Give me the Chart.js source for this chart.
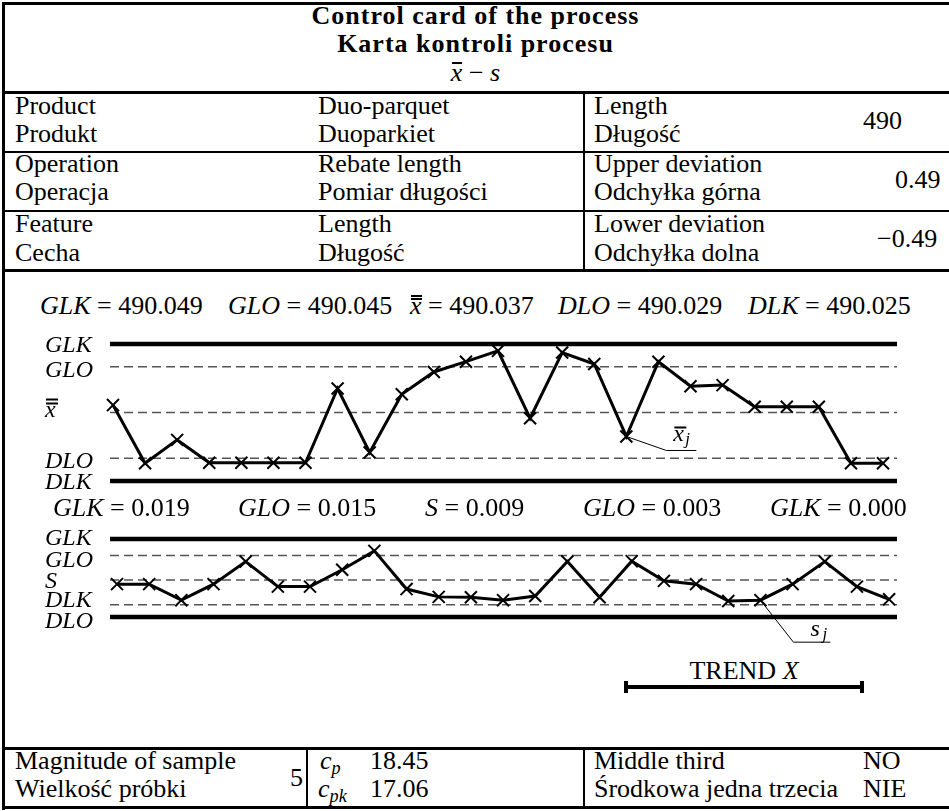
<!DOCTYPE html>
<html>
<head>
<meta charset="utf-8">
<script src="https://cdn.jsdelivr.net/npm/chart.js@4.4.1/dist/chart.umd.min.js"></script>
<style>
body { margin: 0; background: #fff; }
#card { position: relative; width: 949px; height: 811px; overflow: hidden; font-family: "Liberation Serif", "DejaVu Serif", serif; color: #000; }
.t { position: absolute; font-size: 26px; line-height: 26px; white-space: nowrap; }
.b { font-weight: bold; letter-spacing: 1px; }
.h { position: absolute; background: #000; }
i { font-style: italic; }
.ov { position: relative; }
.ov::before { content: ""; position: absolute; left: 1px; right: 0; top: 0.14em; border-top: 2px solid #000; }
.ov2::before { border-top: 5px double #000; }
sub { font-size: 70%; vertical-align: -0.3em; line-height: 0; }
canvas { position: absolute; }
</style>
</head>
<body>
<div id="card">
  <!-- frame -->
  <div class="h" style="left:2px;top:2px;width:3px;height:808px"></div>
  <div class="h" style="left:2px;top:2px;width:947px;height:3px"></div>
  <div class="h" style="left:2px;top:91px;width:947px;height:3px"></div>
  <div class="h" style="left:2px;top:151px;width:947px;height:2px"></div>
  <div class="h" style="left:2px;top:210px;width:947px;height:2px"></div>
  <div class="h" style="left:2px;top:269px;width:947px;height:3px"></div>
  <div class="h" style="left:583px;top:92px;width:2px;height:179px"></div>
  <div class="h" style="left:2px;top:747px;width:947px;height:3px"></div>
  <div class="h" style="left:2px;top:806px;width:947px;height:3px"></div>
  <div class="h" style="left:306px;top:748px;width:2px;height:60px"></div>
  <div class="h" style="left:583px;top:748px;width:2px;height:60px"></div>

  <!-- title -->
  <div class="t b" style="left:2px;width:947px;text-align:center;top:3px">Control card of the process</div>
  <div class="t b" style="left:2px;width:947px;text-align:center;top:31px">Karta kontroli procesu</div>
  <div class="t" style="left:2px;width:947px;text-align:center;top:60px"><i class="ov">x</i> &minus; <i>s</i></div>

  <!-- rows -->
  <div class="t" style="left:15px;top:93px">Product</div>
  <div class="t" style="left:15px;top:121px">Produkt</div>
  <div class="t" style="left:318px;top:93px">Duo-parquet</div>
  <div class="t" style="left:318px;top:121px">Duoparkiet</div>
  <div class="t" style="left:594px;top:93px">Length</div>
  <div class="t" style="left:594px;top:121px">Długość</div>
  <div class="t" style="left:863px;top:108px">490</div>

  <div class="t" style="left:15px;top:151px">Operation</div>
  <div class="t" style="left:15px;top:179px">Operacja</div>
  <div class="t" style="left:318px;top:151px">Rebate length</div>
  <div class="t" style="left:318px;top:179px">Pomiar długości</div>
  <div class="t" style="left:594px;top:151px">Upper deviation</div>
  <div class="t" style="left:594px;top:179px">Odchyłka górna</div>
  <div class="t" style="left:895px;top:167px">0.49</div>

  <div class="t" style="left:15px;top:211px">Feature</div>
  <div class="t" style="left:15px;top:240px">Cecha</div>
  <div class="t" style="left:318px;top:211px">Length</div>
  <div class="t" style="left:318px;top:240px">Długość</div>
  <div class="t" style="left:594px;top:211px">Lower deviation</div>
  <div class="t" style="left:594px;top:240px">Odchyłka dolna</div>
  <div class="t" style="left:877px;top:226px">&minus;0.49</div>

  <!-- x-bar chart header -->
  <div class="t" style="left:40px;top:293px"><i>GLK</i> = 490.049</div>
  <div class="t" style="left:228px;top:293px"><i>GLO</i> = 490.045</div>
  <div class="t" style="left:410px;top:293px"><i class="ov ov2">x</i> = 490.037</div>
  <div class="t" style="left:558px;top:293px"><i>DLO</i> = 490.029</div>
  <div class="t" style="left:748px;top:293px"><i>DLK</i> = 490.025</div>
  <canvas id="xChart" width="857" height="165" style="left:40px;top:330px"></canvas>

  <!-- s chart header -->
  <div class="t" style="left:53px;top:495px"><i>GLK</i> = 0.019</div>
  <div class="t" style="left:238px;top:495px"><i>GLO</i> = 0.015</div>
  <div class="t" style="left:425px;top:495px"><i>S</i> = 0.009</div>
  <div class="t" style="left:583px;top:495px"><i>GLO</i> = 0.003</div>
  <div class="t" style="left:770px;top:495px"><i>GLK</i> = 0.000</div>
  <canvas id="sChart" width="857" height="130" style="left:40px;top:525px"></canvas>

  <!-- trend -->
  <div class="t" style="left:625px;width:238px;text-align:center;top:658px">TREND <i>X</i></div>
  <div class="h" style="left:625px;top:685px;width:238px;height:4px"></div>
  <div class="h" style="left:624px;top:681px;width:4px;height:12px"></div>
  <div class="h" style="left:860px;top:681px;width:4px;height:12px"></div>

  <!-- bottom row -->
  <div class="t" style="left:15px;top:748px">Magnitude of sample</div>
  <div class="t" style="left:15px;top:776px">Wielkość próbki</div>
  <div class="t" style="left:290px;top:765px">5</div>
  <div class="t" style="left:320px;top:748px"><i>c</i><sub><i>p</i></sub></div>
  <div class="t" style="left:370px;top:748px">18.45</div>
  <div class="t" style="left:318px;top:776px"><i>c</i><sub><i>pk</i></sub></div>
  <div class="t" style="left:370px;top:776px">17.06</div>
  <div class="t" style="left:594px;top:748px">Middle third</div>
  <div class="t" style="left:594px;top:776px">Środkowa jedna trzecia</div>
  <div class="t" style="left:863px;top:748px">NO</div>
  <div class="t" style="left:863px;top:776px">NIE</div>
</div>

<script>
// sample numbers
var samples = [1, 2, 3, 4, 5, 6, 7, 8, 9, 10, 11, 12, 13, 14, 15, 16, 17, 18, 19, 20, 21, 22, 23, 24, 25];

// mean of each sample (x-bar)
var xbar = [490.0383, 490.0281, 490.0322, 490.0282, 490.0282, 490.0282, 490.0282, 490.0412, 490.0300, 490.0402,
            490.0441, 490.0459, 490.0478, 490.0360, 490.0475, 490.0455, 490.0328, 490.0459, 490.0416, 490.0418,
            490.0380, 490.0380, 490.0380, 490.0281, 490.0281];

// standard deviation of each sample
var sdev = [0.0080, 0.0080, 0.0041, 0.0080, 0.0135, 0.0074, 0.0074, 0.0115, 0.0161, 0.0068,
            0.0049, 0.0048, 0.0041, 0.0051, 0.0135, 0.0048, 0.0136, 0.0088, 0.0080, 0.0039,
            0.0041, 0.0080, 0.0135, 0.0074, 0.0043];

// control limits
var xLimitNames = ['GLK', 'GLO', 'x\u033F', 'DLO', 'DLK'];
var xLimitValues = [490.049, 490.045, 490.037, 490.029, 490.025];
var sLimitNames = ['GLK', 'GLO', 'S', 'DLK', 'DLO'];
var sLimitValues = [0.019, 0.015, 0.009, 0.003, 0.000];

// draws the limit names on the left and the little pointer label
var sideLabels = {
  id: 'sideLabels',
  afterDatasetsDraw: function(chart, args, o) {
    var ctx = chart.ctx, ys = chart.scales.y;
    var lx = chart.chartArea.left - 65;
    ctx.save();
    ctx.fillStyle = '#000';
    ctx.strokeStyle = '#000';
    ctx.textBaseline = 'alphabetic';
    ctx.font = 'italic 24px "Liberation Serif"';
    o.names.forEach(function(name, i) {
      var py = ys.getPixelForValue(o.limits[i]) + o.nudge[i];
      if (name === 'x\u033F') {
        ctx.fillText('x', lx, py + 5);
        ctx.fillRect(lx + 1, py - 13, 12, 2);
        ctx.fillRect(lx + 1, py - 9, 12, 2);
      } else {
        ctx.fillText(name, lx, py + 8);
      }
    });

    var L = o.leader;
    var pt = chart.getDatasetMeta(0).data[L.index];
    ctx.lineWidth = 1;
    ctx.beginPath();
    ctx.moveTo(pt.x, pt.y);
    ctx.lineTo(pt.x + L.dx, pt.y + L.dy);
    ctx.lineTo(pt.x + L.dx + L.len, pt.y + L.dy);
    ctx.stroke();
    var tx = pt.x + L.dx + L.tdx, ty = pt.y + L.dy + L.tdy;
    ctx.fillText(L.sym, tx, ty);
    if (L.bar) ctx.fillRect(tx + 1, ty - 15, 12, 2);
    ctx.font = 'italic 17px "Liberation Serif"';
    ctx.fillText(L.sub, tx + 12, ty + 3);
    ctx.restore();
  }
};

function limitSet(v, solid, xr) {
  return {
    data: [{x: xr[0], y: v}, {x: xr[1], y: v}],
    borderColor: solid ? '#000' : '#555',
    borderWidth: solid ? 4.5 : 1.5,
    borderDash: solid ? [] : [9, 5],
    pointRadius: 0,
    clip: false
  };
}

function controlChart(id, values, names, limits, xr, yr, nudge, leader) {
  var sets = [{
    data: samples.map(function(s, i) { return {x: s, y: values[i]}; }),
    borderColor: '#000',
    borderWidth: 3,
    pointStyle: 'crossRot',
    pointRadius: 8.5,
    pointBorderWidth: 2,
    pointBorderColor: '#000',
    pointBackgroundColor: '#000',
    clip: false
  }];
  for (var i = 0; i < limits.length; i++) {
    sets.push(limitSet(limits[i], i === 0 || i === limits.length - 1, xr));
  }
  return new Chart(document.getElementById(id), {
    type: 'line',
    data: { datasets: sets },
    options: {
      responsive: false,
      animation: false,
      devicePixelRatio: 1,
      layout: { autoPadding: false, padding: { left: 70, right: 0, top: 0, bottom: 0 } },
      scales: {
        x: { type: 'linear', min: xr[0], max: xr[1], display: false },
        y: { min: yr[0], max: yr[1], display: false }
      },
      plugins: {
        legend: { display: false },
        tooltip: { enabled: false },
        sideLabels: { names: names, limits: limits, nudge: nudge, leader: leader }
      }
    },
    plugins: [sideLabels]
  });
}

controlChart('xChart', xbar, xLimitNames, xLimitValues,
  [0.9065, 25.436], [490.02255, 490.05145], [0, 2, -1, 2, 0],
  { index: 16, dx: 40, dy: 14, len: 30, tdx: 7, tdy: -9, sym: 'x', sub: 'j', bar: true });

controlChart('sChart', sdev, sLimitNames, sLimitValues,
  [0.7824, 25.245], [-0.00926, 0.02241], [-1.5, 3.5, 0, -6, 3],
  { index: 20, dx: 33, dy: 42, len: 37, tdx: 17, tdy: -6, sym: 's', sub: 'j', bar: false });
</script>
</body>
</html>
